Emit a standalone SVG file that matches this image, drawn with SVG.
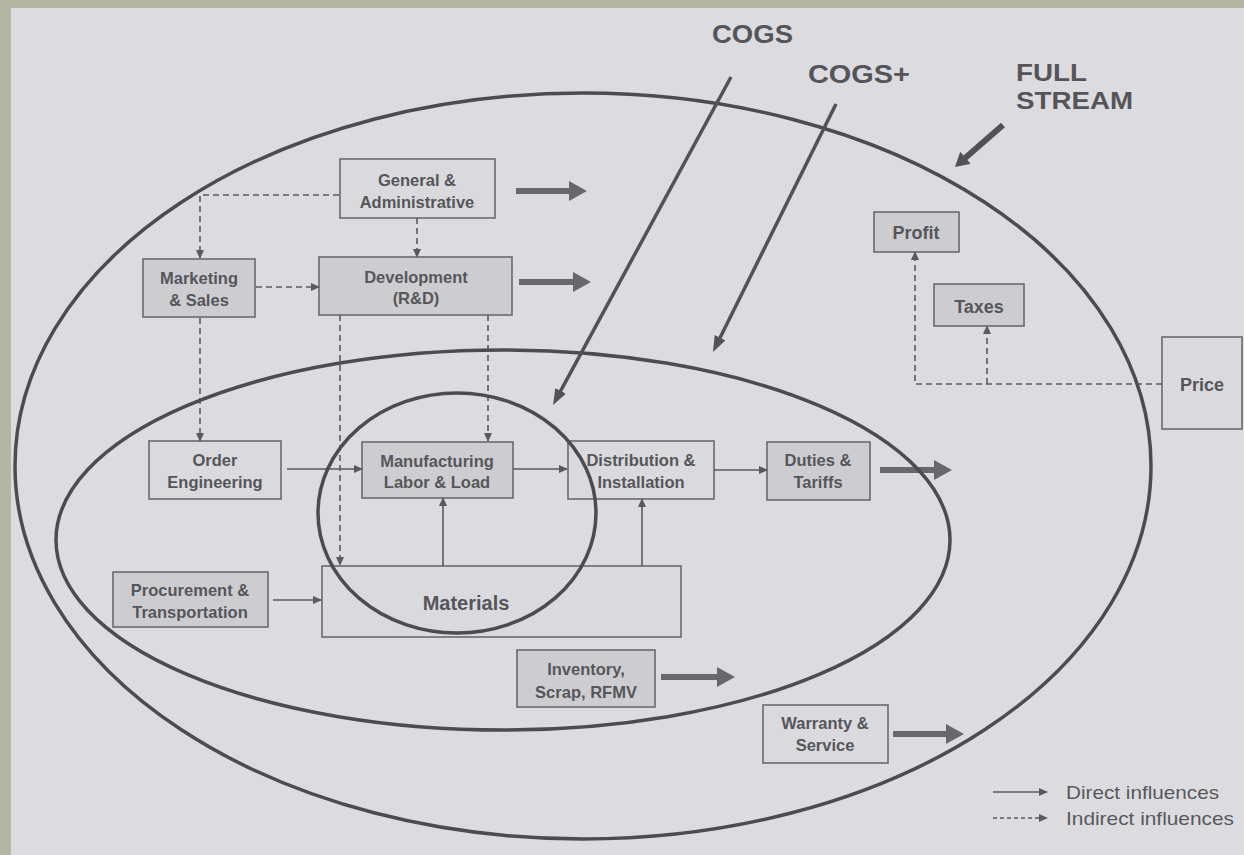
<svg xmlns="http://www.w3.org/2000/svg" width="1244" height="855" viewBox="0 0 1244 855">
<style>
.box{stroke:#6a6a6e;stroke-width:1.6}
.lt{fill:#dadade}
.dk{fill:#cdcdd1}
.bt{font-family:"Liberation Sans",Arial,sans-serif;font-weight:bold;font-size:16.5px;fill:#56565a;text-anchor:middle}
.big{font-family:"Liberation Sans",Arial,sans-serif;font-weight:bold;font-size:26px;fill:#555559}
.leg{font-family:"Liberation Sans",Arial,sans-serif;font-size:19px;fill:#58585c}
.ell{fill:none;stroke:#4c4c50;stroke-width:3.5}
.c{fill:none;stroke:#5a5a5e;stroke-width:1.6;marker-end:url(#sm)}
.d{stroke-dasharray:6 4}
.blk{stroke:#68686c;stroke-width:6;marker-end:url(#bh)}
.lng{stroke:#525256;stroke-width:3.5;marker-end:url(#lh)}
</style>
<defs>
<marker id="sm" markerUnits="userSpaceOnUse" markerWidth="9" markerHeight="8" refX="8" refY="4" orient="auto"><path d="M0,0 L9,4 L0,8 z" fill="#5a5a5e"/></marker>
<marker id="bh" markerUnits="userSpaceOnUse" markerWidth="18" markerHeight="20" refX="1" refY="10" orient="auto"><path d="M0,0 L18,10 L0,20 z" fill="#68686c"/></marker>
<marker id="lh" markerUnits="userSpaceOnUse" markerWidth="16" markerHeight="12" refX="2" refY="6" orient="auto"><path d="M0,0 L16,6 L0,12 z" fill="#525256"/></marker>
<marker id="fh" markerUnits="userSpaceOnUse" markerWidth="14" markerHeight="16" refX="2" refY="8" orient="auto"><path d="M0,0 L14,8 L0,16 z" fill="#525256"/></marker>
</defs>
<rect x="0" y="0" width="1244" height="855" fill="#b4b5a3"/>
<rect x="11" y="8" width="1233" height="847" fill="#dcdce0"/>

<g id="labels">
<text class="big" x="712" y="43" textLength="81" lengthAdjust="spacingAndGlyphs">COGS</text>
<text class="big" x="808" y="83" textLength="102" lengthAdjust="spacingAndGlyphs">COGS+</text>
<text class="big" x="1016" y="81" textLength="71" lengthAdjust="spacingAndGlyphs" style="font-size:24px">FULL</text>
<text class="big" x="1016" y="109" textLength="117" lengthAdjust="spacingAndGlyphs" style="font-size:24px">STREAM</text>
</g>

<g id="node-ga"><rect class="box lt" x="340" y="159" width="155" height="59"/><text class="bt" x="417" y="186">General &amp;</text><text class="bt" x="417" y="208">Administrative</text></g>
<g id="node-marketing"><rect class="box dk" x="143" y="259" width="112" height="58"/><text class="bt" x="199" y="284">Marketing</text><text class="bt" x="199" y="306">&amp; Sales</text></g>
<g id="node-development"><rect class="box dk" x="319" y="257" width="193" height="58"/><text class="bt" x="416" y="283">Development</text><text class="bt" x="416" y="304">(R&amp;D)</text></g>
<g id="node-order"><rect class="box lt" x="149" y="441" width="132" height="58"/><text class="bt" x="215" y="466">Order</text><text class="bt" x="215" y="488">Engineering</text></g>
<g id="node-manufacturing"><rect class="box dk" x="362" y="442" width="151" height="56"/><text class="bt" x="437" y="467">Manufacturing</text><text class="bt" x="437" y="488">Labor &amp; Load</text></g>
<g id="node-distribution"><rect class="box lt" x="568" y="441" width="146" height="58"/><text class="bt" x="641" y="466">Distribution &amp;</text><text class="bt" x="641" y="488">Installation</text></g>
<g id="node-duties"><rect class="box dk" x="767" y="442" width="103" height="58"/><text class="bt" x="818" y="466">Duties &amp;</text><text class="bt" x="818" y="488">Tariffs</text></g>
<g id="node-procurement"><rect class="box dk" x="113" y="572" width="155" height="55"/><text class="bt" x="190" y="596">Procurement &amp;</text><text class="bt" x="190" y="618">Transportation</text></g>
<g id="node-materials"><rect class="box lt" x="322" y="566" width="359" height="71"/><text class="bt" x="466" y="610" style="font-size:20px">Materials</text></g>
<g id="node-inventory"><rect class="box dk" x="517" y="650" width="138" height="57"/><text class="bt" x="586" y="675">Inventory,</text><text class="bt" x="586" y="698">Scrap, RFMV</text></g>
<g id="node-warranty"><rect class="box lt" x="763" y="705" width="125" height="58"/><text class="bt" x="825" y="729">Warranty &amp;</text><text class="bt" x="825" y="751">Service</text></g>
<g id="node-profit"><rect class="box dk" x="874" y="212" width="85" height="40"/><text class="bt" x="916" y="239" style="font-size:18px">Profit</text></g>
<g id="node-taxes"><rect class="box dk" x="934" y="284" width="90" height="42"/><text class="bt" x="979" y="313" style="font-size:18px">Taxes</text></g>
<g id="node-price"><rect class="box lt" x="1162" y="337" width="80" height="92"/><text class="bt" x="1202" y="391" style="font-size:18px">Price</text></g>

<g id="connectors">
<path class="c d" d="M339,195 H200 V258"/>
<path class="c d" d="M417,218 V257"/>
<path class="c d" d="M256,287 H319"/>
<path class="c d" d="M200,318 V441"/>
<path class="c d" d="M340,315 V565"/>
<path class="c d" d="M488,315 V441"/>
<path class="c" d="M287,469 H362"/>
<path class="c" d="M513,469 H567"/>
<path class="c" d="M714,470 H767"/>
<path class="c" d="M443,566 V498"/>
<path class="c" d="M642,566 V499"/>
<path class="c" d="M273,600 H321"/>
<path class="c d" d="M1162,384 H915 V252"/>
<path class="c d" d="M987,384 V326"/>
<line class="blk" x1="516" y1="191" x2="570" y2="191"/>
<line class="blk" x1="519" y1="282" x2="574" y2="282"/>
<line class="blk" x1="880" y1="470" x2="935" y2="470"/>
<line class="blk" x1="661" y1="677" x2="718" y2="677"/>
<line class="blk" x1="893" y1="734" x2="947" y2="734"/>
</g>

<g id="scopes">
<ellipse class="ell" cx="583" cy="466" rx="568" ry="373"/>
<ellipse class="ell" cx="503" cy="540" rx="447" ry="190"/>
<ellipse class="ell" cx="457" cy="513" rx="139" ry="120"/>
</g>

<g id="scope-pointers">
<line class="lng" x1="731" y1="77" x2="559.7" y2="392.7"/>
<line class="lng" x1="836" y1="104" x2="719.2" y2="339.5"/>
<line stroke="#525256" stroke-width="6" marker-end="url(#fh)" x1="1003" y1="125" x2="964" y2="159.1"/>
</g>

<g id="legend">
<path class="c" d="M993,792 H1047"/>
<path class="c" d="M993,818 H1047" stroke-dasharray="4 3"/>
<text class="leg" x="1066" y="799" textLength="153" lengthAdjust="spacingAndGlyphs">Direct influences</text>
<text class="leg" x="1066" y="825" textLength="168" lengthAdjust="spacingAndGlyphs">Indirect influences</text>
</g>
</svg>
